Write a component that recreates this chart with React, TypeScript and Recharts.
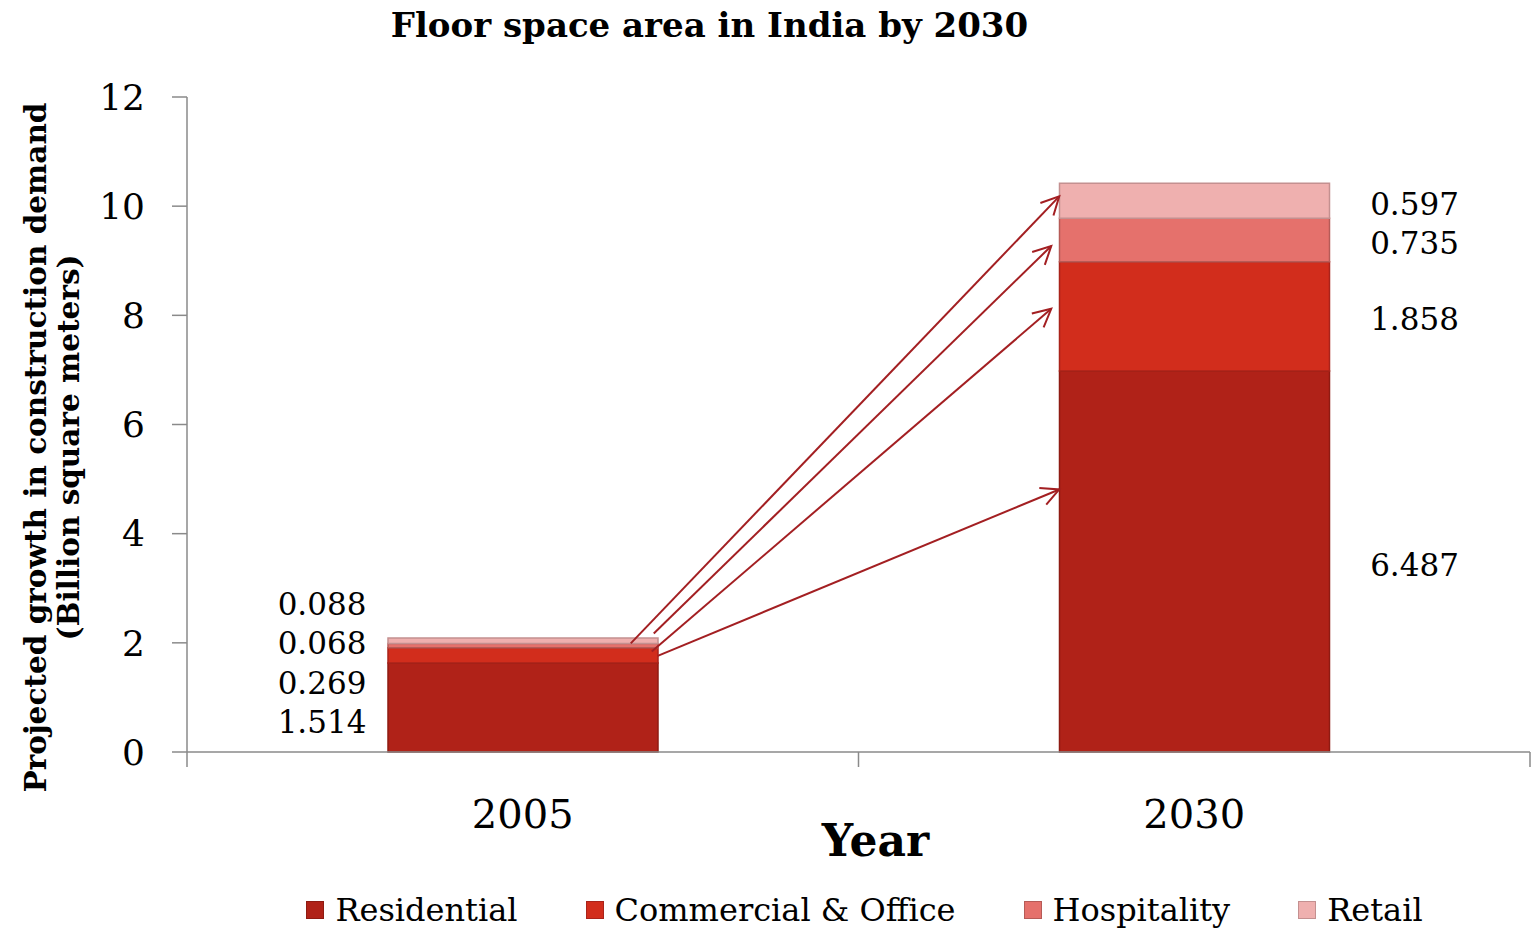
import { BarChart, Bar, XAxis, YAxis, Legend, LabelList, ReferenceLine } from 'recharts';

// bar heights as drawn in the picture (billion m²)
const years = ['2005', '2030'];
const residential = [1.63, 6.98];
const commercial = [0.28, 2.0];
const hospitality = [0.08, 0.8];
const retail = [0.1, 0.64];

// printed values next to the bars
const residentialLabels = ['1.514', '6.487'];
const commercialLabels = ['0.269', '1.858'];
const hospitalityLabels = ['0.068', '0.735'];
const retailLabels = ['0.088', '0.597'];

const yTicks = [0, 2, 4, 6, 8, 10, 12];

// growth arrows: value at the 2005 bar -> value at the 2030 bar
const arrowFrom = [1.99, 2.17, 1.84, 1.76];
const arrowTo = [10.18, 9.27, 8.12, 4.81];

const W = 1535;
const H = 931;
const MARGIN = { top: 97, right: 5, left: 87, bottom: 0 };
const Y_AXIS_W = 100;
const X_AXIS_H = 119;
const LEGEND_H = 60;
const PLOT_LEFT = MARGIN.left + Y_AXIS_W;
const PLOT_RIGHT = W - MARGIN.right;
const PLOT_BOTTOM = H - LEGEND_H - X_AXIS_H;
const PLOT_H = PLOT_BOTTOM - MARGIN.top;
const BAND = (PLOT_RIGHT - PLOT_LEFT) / years.length;
const BAR_SIZE = 270;

const AXIS = '#8a8a8a';
const ARROW = '#a31f22';
const SERIF = '"DejaVu Serif", serif';

// pixel tweaks so arrows start/end where they do in the original
const arrowStartInset = [-27, -4, -6, 0];
const arrowEndGap = [0, -8, -8, 0];

const series = [
  { key: 'residential', label: 'residentialLabel', name: 'Residential', fill: '#b02218', stroke: '#8e1b12' },
  { key: 'commercial', label: 'commercialLabel', name: 'Commercial & Office', fill: '#d22d1c', stroke: '#a9231a' },
  { key: 'hospitality', label: 'hospitalityLabel', name: 'Hospitality', fill: '#e5716c', stroke: '#b65b57' },
  { key: 'retail', label: 'retailLabel', name: 'Retail', fill: '#efb0af', stroke: '#c49090' },
];

const data = years.map((year, i) => ({
  year,
  residential: residential[i],
  commercial: commercial[i],
  hospitality: hospitality[i],
  retail: retail[i],
  residentialLabel: residentialLabels[i],
  commercialLabel: commercialLabels[i],
  hospitalityLabel: hospitalityLabels[i],
  retailLabel: retailLabels[i],
}));

function XTick({ x, y, payload, index }: any) {
  const half = BAND / 2;
  return (
    <g>
      <line x1={x - half} y1={y} x2={x - half} y2={y + 15} stroke={AXIS} strokeWidth={1.5} />
      {index === years.length - 1 && (
        <line x1={x + half} y1={y} x2={x + half} y2={y + 15} stroke={AXIS} strokeWidth={1.5} />
      )}
      <text x={x} y={y + 76} textAnchor="middle" fontFamily={SERIF} fontSize={40} fill="#000">
        {payload.value}
      </text>
    </g>
  );
}

function YearLabel() {
  return (
    <text
      x={(PLOT_LEFT + PLOT_RIGHT) / 2 + 17}
      y={PLOT_BOTTOM + 104}
      textAnchor="middle"
      fontFamily={SERIF}
      fontWeight="bold"
      fontSize={44}
      fill="#000"
    >
      Year
    </text>
  );
}

function YTitle() {
  const cy = MARGIN.top + PLOT_H / 2 + 23;
  const lines = ['Projected growth in construction demand', '(Billion square meters)'];
  const xs = [35, 68];
  return (
    <g>
      {lines.map((t, i) => (
        <text
          key={i}
          x={xs[i]}
          y={cy}
          transform={`rotate(-90, ${xs[i]}, ${cy})`}
          textAnchor="middle"
          dominantBaseline="central"
          fontFamily={SERIF}
          fontWeight="bold"
          fontSize={29.5}
          fill="#000"
        >
          {t}
        </text>
      ))}
    </g>
  );
}

function makeValueLabel(k: number) {
  return (props: any) => {
    const vb = props.viewBox ?? props;
    const { x, width } = vb;
    const top = Math.min(vb.y, vb.y + vb.height);
    const h = Math.abs(vb.height);
    let cx: number;
    let cy: number;
    if (props.index === 0) {
      // small 2005 segments: labels stacked up from the base, left of the bar
      cx = x - 66;
      cy = PLOT_BOTTOM - 30 - k * 39.5;
    } else {
      cx = x + width + 85;
      cy = top + h / 2 + 3;
    }
    return (
      <text
        x={cx}
        y={cy}
        textAnchor="middle"
        dominantBaseline="central"
        fontFamily={SERIF}
        fontSize={31}
        fill="#000"
      >
        {props.value}
      </text>
    );
  };
}

function makeArrow(i: number) {
  return (p: any) => {
    const xs = p.x1 + BAR_SIZE / 2 + arrowStartInset[i];
    const xe = p.x2 - BAR_SIZE / 2 + arrowEndGap[i];
    const ys = p.y1;
    const ye = p.y2;
    const ang = Math.atan2(ye - ys, xe - xs);
    const L = 20;
    const a = 0.47;
    const b1 = [xe - L * Math.cos(ang - a), ye - L * Math.sin(ang - a)];
    const b2 = [xe - L * Math.cos(ang + a), ye - L * Math.sin(ang + a)];
    return (
      <g>
        <line x1={xs} y1={ys} x2={xe} y2={ye} stroke={ARROW} strokeWidth={2} />
        <polyline
          points={`${b1[0]},${b1[1]} ${xe},${ye} ${b2[0]},${b2[1]}`}
          fill="none"
          stroke={ARROW}
          strokeWidth={2}
        />
      </g>
    );
  };
}

function LegendContent() {
  return (
    <div
      style={{
        height: LEGEND_H,
        boxSizing: 'border-box',
        paddingTop: 18,
        paddingLeft: 112,
        display: 'flex',
        justifyContent: 'center',
        alignItems: 'center',
        gap: 68,
        fontFamily: SERIF,
        fontSize: 32,
        color: '#000',
      }}
    >
      {series.map((s) => (
        <div key={s.key} style={{ display: 'flex', alignItems: 'center', whiteSpace: 'nowrap' }}>
          <span
            style={{
              display: 'inline-block',
              width: 16,
              height: 16,
              background: s.fill,
              border: `1.5px solid ${s.stroke}`,
              marginRight: 11,
            }}
          />
          {s.name}
        </div>
      ))}
    </div>
  );
}

export default function App() {
  return (
    <div style={{ position: 'absolute', left: 0, top: 0, width: W, height: H, background: '#fff' }}>
      <div
        style={{
          position: 'absolute',
          top: 8,
          left: 0,
          width: 1419,
          textAlign: 'center',
          fontFamily: SERIF,
          fontWeight: 'bold',
          fontSize: 34,
          lineHeight: '34px',
          color: '#000',
        }}
      >
        Floor space area in India by 2030
      </div>
      <BarChart width={W} height={H} data={data} margin={MARGIN}>
        <XAxis
          dataKey="year"
          height={X_AXIS_H}
          tickLine={false}
          tickSize={0}
          tickMargin={0}
          tick={<XTick />}
          axisLine={{ stroke: AXIS, strokeWidth: 1.5 }}
          label={<YearLabel />}
        />
        <YAxis
          width={Y_AXIS_W}
          domain={[0, 12]}
          ticks={yTicks}
          tickSize={15}
          tickMargin={27}
          tickLine={{ stroke: AXIS, strokeWidth: 1.5 }}
          axisLine={{ stroke: AXIS, strokeWidth: 1.5 }}
          tick={{ fontFamily: SERIF, fontSize: 36, fill: '#000' }}
          label={<YTitle />}
        />
        <Legend verticalAlign="bottom" content={<LegendContent />} />
        {series.map((s, k) => (
          <Bar
            key={s.key}
            dataKey={s.key}
            name={s.name}
            stackId="floor"
            fill={s.fill}
            stroke={s.stroke}
            strokeWidth={1.5}
            barSize={BAR_SIZE}
            isAnimationActive={false}
          >
            <LabelList dataKey={s.label} content={makeValueLabel(k)} />
          </Bar>
        ))}
        {arrowFrom.map((v, i) => (
          <ReferenceLine
            key={i}
            segment={[
              { x: years[0], y: v },
              { x: years[1], y: arrowTo[i] },
            ]}
            ifOverflow="visible"
            shape={makeArrow(i)}
          />
        ))}
      </BarChart>
    </div>
  );
}
